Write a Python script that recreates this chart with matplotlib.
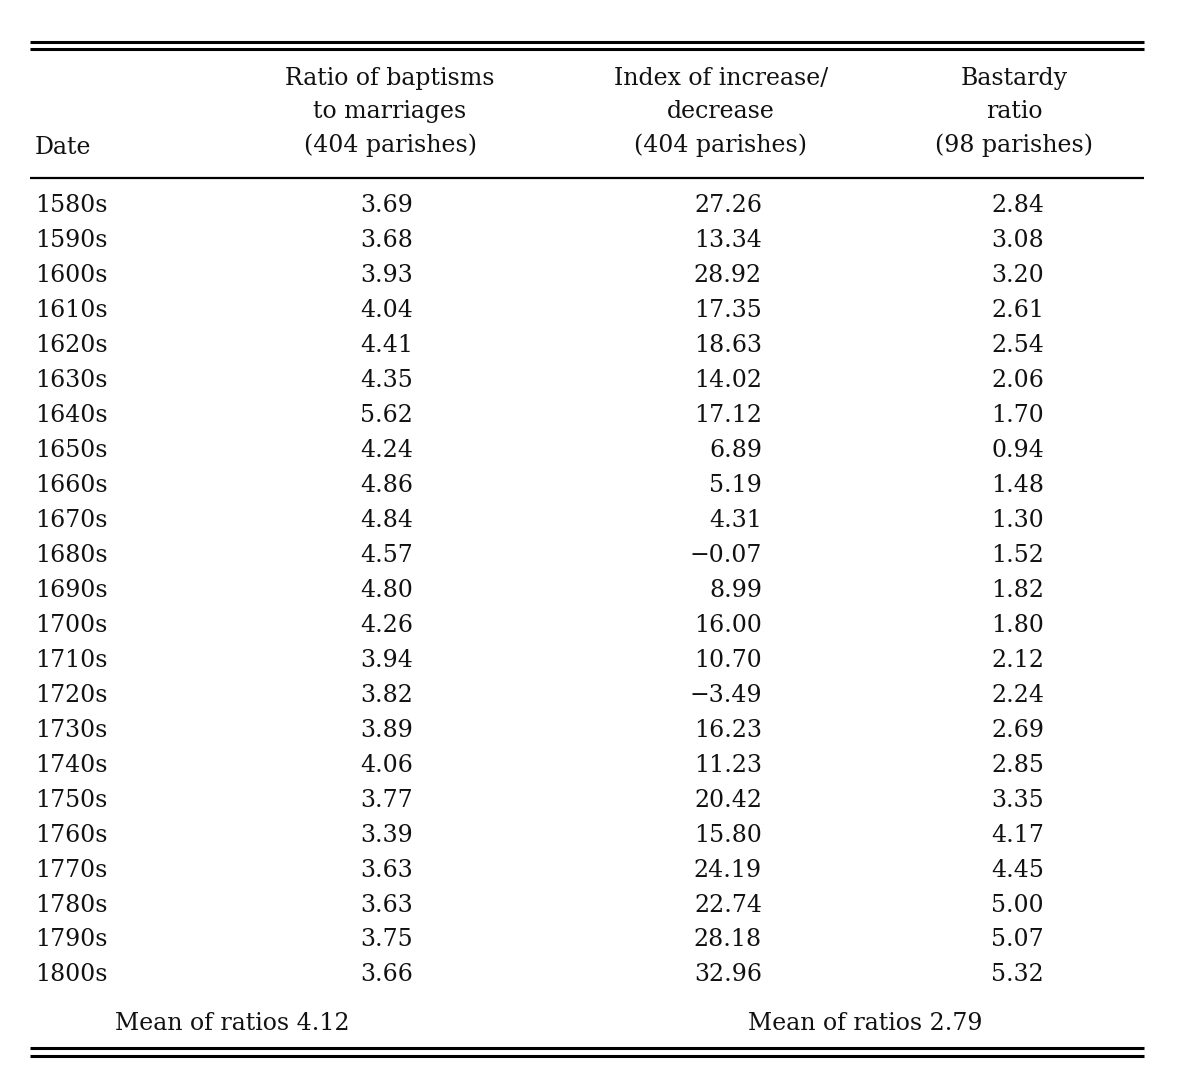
import matplotlib.pyplot as plt

# table contents
dates = ['1580s', '1590s', '1600s', '1610s', '1620s', '1630s', '1640s', '1650s',
         '1660s', '1670s', '1680s', '1690s', '1700s', '1710s', '1720s', '1730s',
         '1740s', '1750s', '1760s', '1770s', '1780s', '1790s', '1800s']
bapt_marr = [3.69, 3.68, 3.93, 4.04, 4.41, 4.35, 5.62, 4.24, 4.86, 4.84, 4.57, 4.80,
             4.26, 3.94, 3.82, 3.89, 4.06, 3.77, 3.39, 3.63, 3.63, 3.75, 3.66]
incr_decr = [27.26, 13.34, 28.92, 17.35, 18.63, 14.02, 17.12, 6.89, 5.19, 4.31, -0.07,
             8.99, 16.00, 10.70, -3.49, 16.23, 11.23, 20.42, 15.80, 24.19, 22.74,
             28.18, 32.96]
bastardy = [2.84, 3.08, 3.20, 2.61, 2.54, 2.06, 1.70, 0.94, 1.48, 1.30, 1.52, 1.82,
            1.80, 2.12, 2.24, 2.69, 2.85, 3.35, 4.17, 4.45, 5.00, 5.07, 5.32]
headers = ['Ratio of baptisms\nto marriages\n(404 parishes)',
           'Index of increase/\ndecrease\n(404 parishes)',
           'Bastardy\nratio\n(98 parishes)']
mean_bapt = 4.12
mean_bast = 2.79

W, H = 1200, 1084
fig = plt.figure(figsize=(W / 100, H / 100), dpi=100)
ax = fig.add_axes([0, 0, 1, 1])
ax.set_xlim(0, W)
ax.set_ylim(H, 0)
ax.axis('off')

font = dict(family=['DejaVu Serif'], size=17, color='#111111')

def fmt(v):
    s = '%.2f' % abs(v)
    return ('\u2212' + s) if v < 0 else s

# rules
x0, x1 = 30, 1144
for y in (42, 49):
    ax.plot([x0, x1], [y, y], color='black', lw=2.2, solid_capstyle='butt')
ax.plot([x0, x1], [178, 178], color='black', lw=1.6, solid_capstyle='butt')
for y in (1048, 1056):
    ax.plot([x0, x1], [y, y], color='black', lw=2.2, solid_capstyle='butt')

# headers
col_center = [390, 721, 1014]
ax.text(35, 148, 'Date', ha='left', va='center', **font)
for c, h in zip(col_center, headers):
    ax.text(c, 112, h, ha='center', va='center', linespacing=1.58, **font)

# body
row_y0, row_dy = 206, 34.95
col_right = [413, 762, 1044]
for i, d in enumerate(dates):
    y = row_y0 + i * row_dy
    ax.text(35, y, d, ha='left', va='center', **font)
    ax.text(col_right[0], y, fmt(bapt_marr[i]), ha='right', va='center', **font)
    ax.text(col_right[1], y, fmt(incr_decr[i]), ha='right', va='center', **font)
    ax.text(col_right[2], y, fmt(bastardy[i]), ha='right', va='center', **font)

ax.text(115, 1023, 'Mean of ratios %.2f' % mean_bapt, ha='left', va='center', **font)
ax.text(748, 1023, 'Mean of ratios %.2f' % mean_bast, ha='left', va='center', **font)

fig.savefig('out.png', dpi=100, facecolor='white')
